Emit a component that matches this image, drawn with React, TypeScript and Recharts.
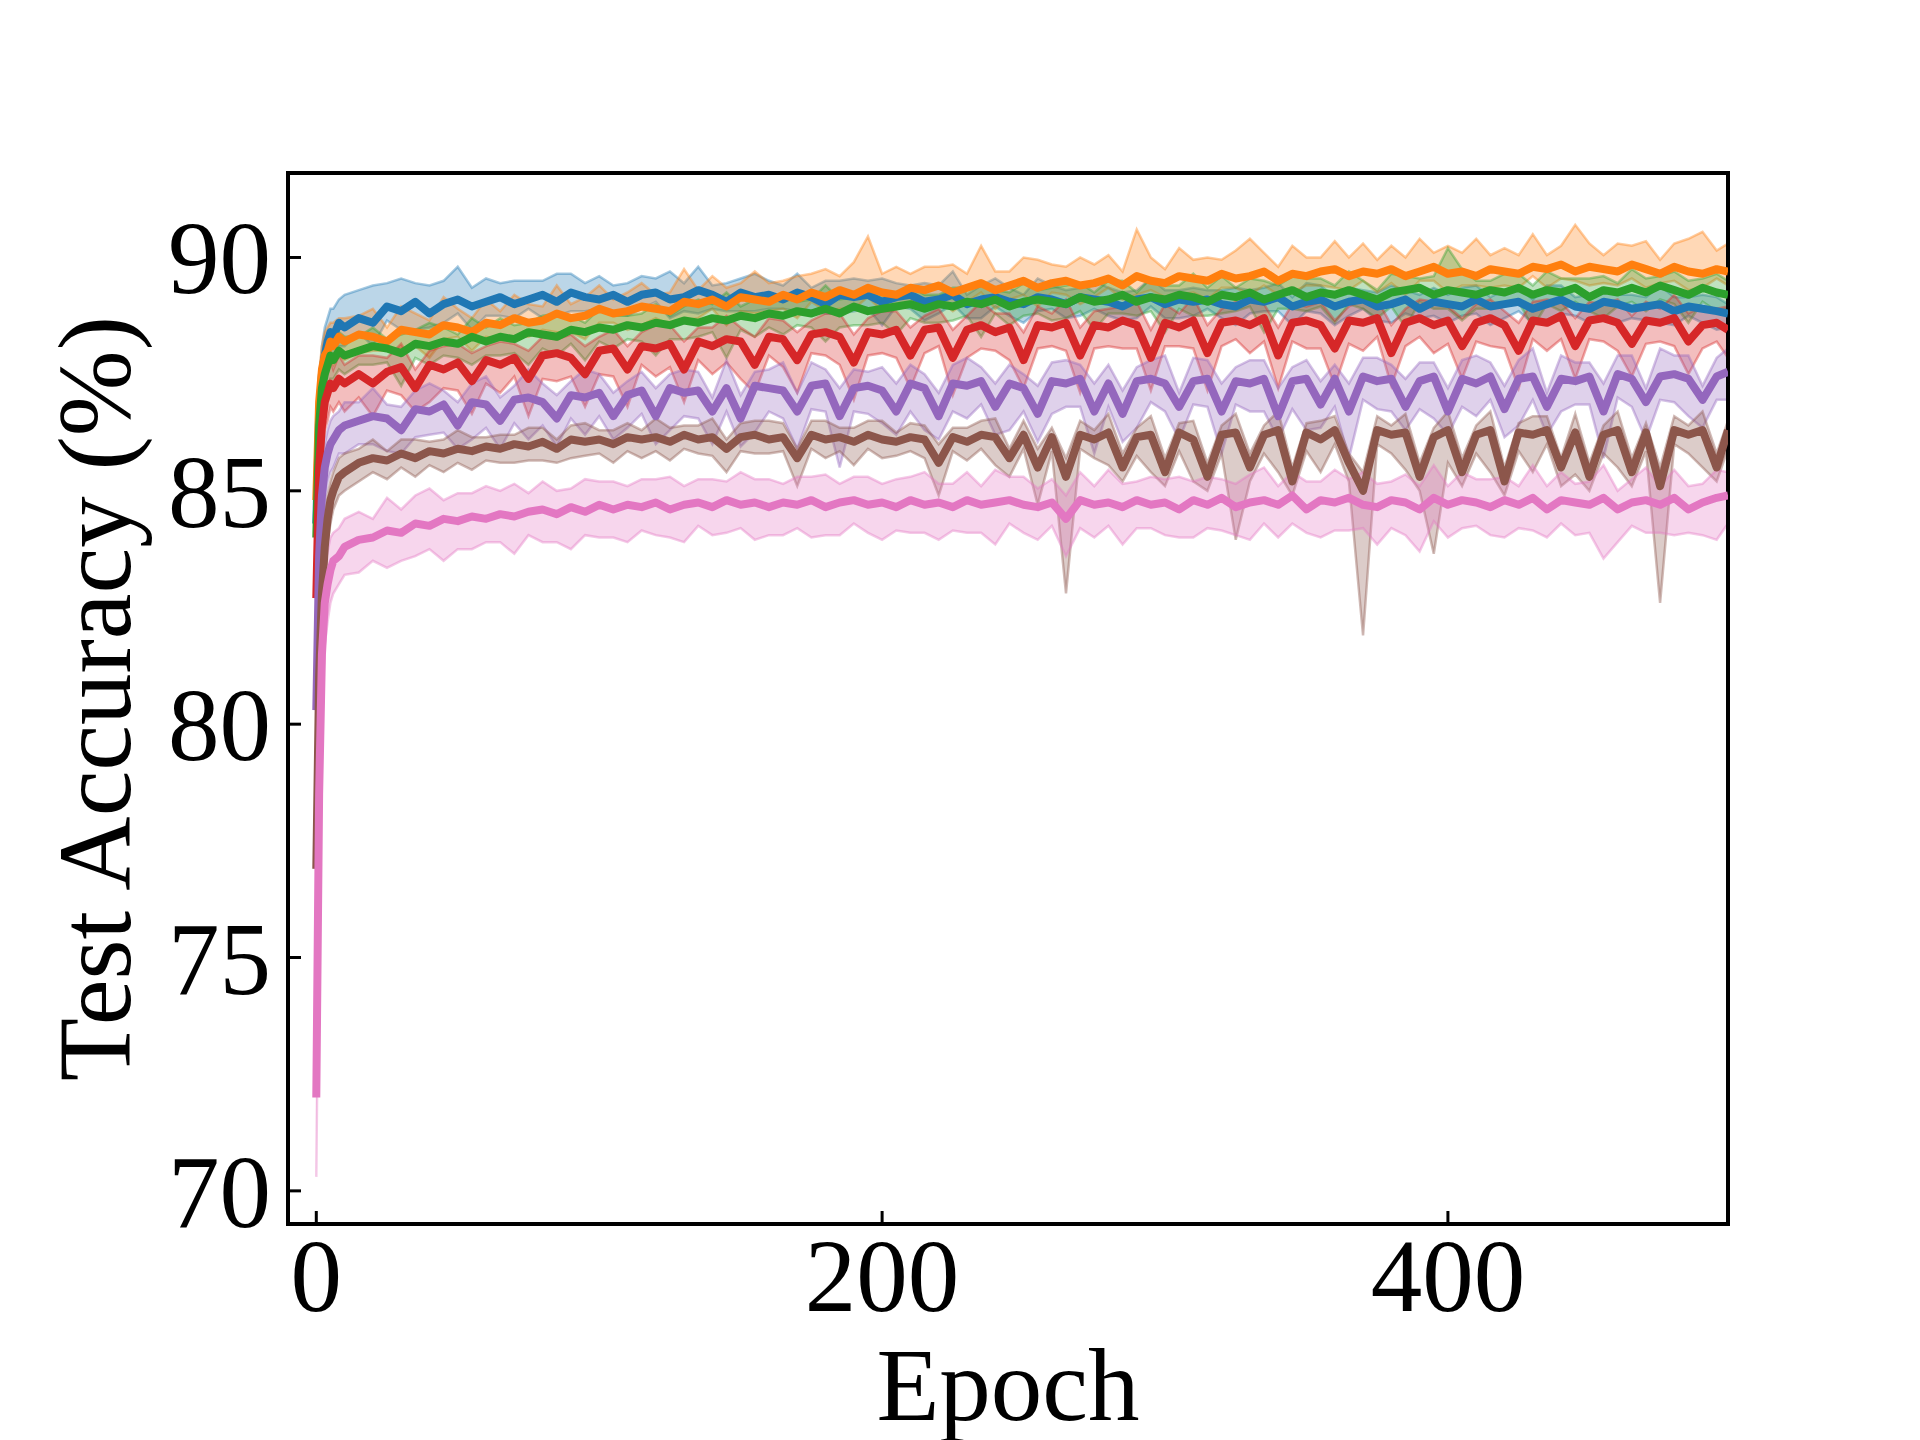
import React from 'react';
import { ComposedChart, Line, Area, XAxis, YAxis, ReferenceArea } from 'recharts';

const parse = (s: string): number[] => s.trim().split(/\s+/).map(Number);

// x categories (epochs)
const EPOCHS = parse(`
0 1 2 3 4 5 6 8 10
15 20 25 30 35 40 45 50 55 60
65 70 75 80 85 90 95 100 105 110
115 120 125 130 135 140 145 150 155 160
165 170 175 180 185 190 195 200 205 210
215 220 225 230 235 240 245 250 255 260
265 270 275 280 285 290 295 300 305 310
315 320 325 330 335 340 345 350 355 360
365 370 375 380 385 390 395 400 405 410
415 420 425 430 435 440 445 450 455 460
465 470 475 480 485 490 495 499`);

const X_TICKS = [0, 200, 400];
const Y_TICKS = [70, 75, 80, 85, 90];

// ---- blue ----
const BLUE_MEAN = parse(`
84.3 86.6 87.5 87.9 88.2 88.4 88.3 88.6 88.5
88.7 88.6 88.95 88.85 89.05 88.8 89.0 89.1 88.95 89.05
89.15 89.0 89.1 89.2 89.05 89.25 89.15 89.1 89.2 89.05
89.2 89.25 89.1 89.15 89.3 89.2 89.05 89.25 89.15 89.2
89.1 89.25 89.15 89.0 89.2 89.15 89.2 89.05 89.15 89.2
89.05 89.1 89.2 89.0 89.1 89.15 89.05 89.0 89.15 89.1
89.0 89.15 89.1 89.05 88.95 89.1 89.15 89.0 89.1 89.05
89.1 89.0 88.95 89.1 89.05 89.15 88.95 89.05 89.1 88.95
89.05 89.1 88.95 89.0 89.1 88.9 89.05 89.0 88.95 89.1
88.95 89.0 89.05 88.9 89.0 89.1 88.95 88.9 89.05 89.0
88.9 88.95 89.0 88.85 88.95 88.9 88.85 88.8`);
const BLUE_UP = parse(`
1.0 .7 .6 .6 .5 .5 .6 .5 .7
.6 .8 .5 .7 .4 .6 .5 .7 .4 .5
.3 .5 .4 .3 .6 .4 .3 .5 .2 .4
.4 .3 .6 .3 .5 .2 .4 .3 .5 .3
.3 .4 .2 .5 .3 .4 .3 .5 .3 .2
.4 .3 .5 .2 .3 .4 .3 .2 .4 .3
.3 .2 .4 .3 .3 .2 .4 .3 .2 .3
.2 .3 .4 .2 .3 .3 .2 .4 .3 .2
.3 .2 .3 .4 .2 .3 .3 .2 .4 .3
.2 .3 .3 .2 .4 .3 .2 .3 .3 .2
.3 .2 .4 .3 .2 .3 .3 .2`);
const BLUE_DOWN = parse(`
1.3 .9 .7 .6 .5 .5 .4 .5 .4
.3 .5 .3 .4 .6 .3 .4 .3 .5 .3
.4 .3 .2 .5 .3 .4 .3 .2 .4 .3
.3 .2 .4 .3 .5 .3 .2 .4 .3 .3
.2 .4 .3 .2 .4 .3 .3 .5 .2 .3
.4 .3 .2 .3 .4 .2 .3 .4 .3 .2
.3 .4 .2 .3 .3 .4 .2 .3 .4 .3
.2 .3 .4 .3 .2 .3 .4 .2 .3 .4
.3 .2 .3 .4 .3 .2 .3 .4 .2 .3
.4 .3 .2 .3 .4 .3 .2 .3 .3 .4
.2 .3 .4 .3 .2 .3 .4 .3`);

// ---- orange ----
const ORANGE_MEAN = parse(`
84.8 86.9 87.6 87.9 88.0 88.2 88.1 88.3 88.2
88.35 88.3 88.2 88.45 88.4 88.35 88.55 88.5 88.4 88.6
88.55 88.7 88.6 88.65 88.8 88.7 88.75 88.9 88.8 88.85
88.95 88.9 88.85 89.05 89.0 89.1 88.95 89.15 89.1 89.05
89.2 89.1 89.25 89.15 89.3 89.2 89.35 89.25 89.2 89.35
89.3 89.4 89.25 89.35 89.45 89.3 89.4 89.5 89.35 89.45
89.5 89.4 89.45 89.55 89.4 89.6 89.5 89.45 89.6 89.55
89.5 89.65 89.55 89.6 89.7 89.5 89.65 89.6 89.7 89.75
89.6 89.7 89.65 89.75 89.6 89.7 89.8 89.65 89.7 89.6
89.75 89.7 89.65 89.8 89.75 89.85 89.7 89.8 89.75 89.7
89.85 89.75 89.65 89.8 89.7 89.65 89.75 89.7`);
const ORANGE_UP = parse(`
.9 .6 .5 .5 .5 .4 .5 .4 .5
.4 .6 .3 .5 .4 .3 .6 .4 .3 .5
.3 .5 .4 .3 .6 .3 .4 .5 .3 .4
.5 .3 .4 .7 .3 .5 .4 .3 .6 .4
.3 .5 .4 .6 .3 .7 1.1 .4 .6 .3
.5 .4 .6 .3 .8 .4 .3 .5 .6 .4
.3 .6 .4 .5 .3 1.0 .5 .3 .6 .4
.5 .3 .6 .8 .4 .3 .6 .4 .3 .6
.4 .6 .3 .5 .4 .7 .3 .6 .4 .8
.3 .5 .4 .7 .3 .4 1.0 .5 .3 .6
.4 .6 .3 .5 .7 .9 .4 .6`);
const ORANGE_DOWN = parse(`
1.2 .8 .6 .5 .5 .4 .4 .4 .4
.4 .3 .2 .4 .3 .5 .3 .2 .4 .3
.3 .4 .3 .2 .4 .3 .5 .3 .2 .4
.4 .2 .3 .4 .3 .2 .4 .3 .3 .2
.3 .4 .2 .3 .4 .3 .2 .4 .3 .3
.2 .3 .4 .3 .2 .4 .3 .3 .4 .2
.3 .4 .3 .2 .3 .4 .2 .3 .4 .3
.4 .3 .2 .4 .3 .3 .4 .2 .3 .4
.3 .2 .4 .3 .4 .2 .3 .4 .3 .2
.4 .3 .3 .2 .4 .3 .2 .4 .3 .3
.3 .4 .2 .3 .4 .3 .2 .3`);

// ---- green ----
const GREEN_MEAN = parse(`
84.0 86.4 87.2 87.5 87.7 87.9 87.8 88.0 87.9
88.0 88.1 88.05 87.95 88.15 88.1 88.2 88.15 88.3 88.2
88.3 88.25 88.4 88.35 88.3 88.45 88.4 88.5 88.45 88.55
88.5 88.6 88.55 88.65 88.6 88.7 88.65 88.75 88.7 88.8
88.75 88.85 88.8 88.9 88.8 88.95 88.85 88.9 88.95 89.0
88.9 89.0 88.95 89.05 89.0 89.1 88.95 89.05 89.1 89.05
89.0 89.15 89.05 89.1 89.2 89.05 89.15 89.1 89.2 89.15
89.05 89.2 89.15 89.25 89.1 89.2 89.3 89.15 89.25 89.2
89.3 89.2 89.1 89.25 89.3 89.35 89.2 89.3 89.25 89.2
89.3 89.25 89.35 89.2 89.3 89.25 89.35 89.15 89.3 89.25
89.35 89.25 89.4 89.3 89.2 89.35 89.25 89.2`);
const GREEN_UP = parse(`
.9 .6 .5 .5 .4 .4 .5 .4 .4
.3 .4 .2 .4 .3 .5 .3 .2 .4 .3
.4 .3 .2 .4 .5 .3 .2 .4 .3 .2
.3 .4 .2 .3 .5 .3 .6 .2 .4 .3
.4 .2 .3 .5 .3 .2 .4 .3 .2 .4
.3 .2 .4 .3 .5 .2 .3 .4 .2 .3
.4 .3 .2 .4 .3 .2 .4 .3 .2 .5
.3 .4 .2 .3 .4 .2 .3 .4 .3 .2
.4 .3 .2 .4 .3 .2 .4 .9 .5 .3
.2 .4 .3 .2 .4 .3 .2 .4 .3 .2
.4 .3 .2 .4 .3 .2 .4 .3`);
const GREEN_DOWN = parse(`
1.4 .9 .7 .6 .5 .5 .4 .4 .4
.3 .4 .3 .7 .3 .4 .3 .3 .6 .3
.4 .3 .7 .3 .4 .3 .6 .3 .4 .3
.3 .7 .3 .4 .3 .3 .8 .3 .4 .3
.4 .3 .3 .7 .3 .4 .3 .3 .6 .3
.3 .4 .3 .3 .7 .3 .4 .3 .3 .4
.3 .3 .6 .3 .4 .3 .3 .7 .3 .4
.3 .4 .3 .3 .7 .3 .4 .3 .3 .6
.3 .3 .4 .3 .8 .3 .3 .4 .6 .3
.4 .3 .3 .7 .3 .4 .3 .3 .6 .3
.3 .4 .3 .3 .6 .3 .4 .3`);

// ---- red ----
const RED_MEAN = parse(`
82.7 85.5 86.4 86.9 87.1 87.3 87.2 87.4 87.3
87.5 87.3 87.55 87.65 87.2 87.7 87.6 87.75 87.35 87.8
87.7 87.85 87.4 87.9 87.95 87.85 87.5 88.0 88.05 87.6
88.1 88.05 88.15 87.6 88.2 88.1 88.25 88.2 87.7 88.3
88.25 87.8 88.35 88.4 88.3 87.75 88.4 88.35 88.45 87.9
88.45 88.5 87.85 88.45 88.55 88.4 88.5 87.8 88.55 88.5
88.6 87.9 88.55 88.5 88.65 88.55 87.85 88.6 88.5 88.65
87.95 88.6 88.65 88.55 88.7 87.9 88.6 88.65 88.55 88.05
88.65 88.6 88.7 87.95 88.6 88.7 88.55 88.65 88.1 88.6
88.7 88.55 88.0 88.65 88.6 88.75 88.1 88.65 88.7 88.6
88.15 88.65 88.6 88.7 88.2 88.55 88.6 88.45`);
const RED_UP = parse(`
.9 .7 .6 .5 .5 .5 .4 .5 .4
.4 .6 .3 .5 .4 .3 .5 .4 .6 .3
.5 .3 .6 .4 .3 .5 .6 .3 .4 .5
.3 .5 .4 .6 .3 .4 .5 .3 .6 .4
.4 .6 .3 .4 .5 .6 .3 .5 .4 .6
.3 .4 .6 .3 .5 .4 .3 .6 .4 .3
.5 .6 .3 .4 .3 .5 .6 .4 .3 .5
.6 .3 .4 .5 .3 .6 .4 .3 .5 .6
.3 .5 .4 .6 .3 .4 .5 .3 .6 .4
.4 .3 .6 .4 .5 .3 .6 .4 .3 .5
.6 .4 .3 .5 .6 .4 .3 .5`);
const RED_DOWN = parse(`
1.2 .9 .7 .6 .6 .5 .5 .5 .6
.5 .7 .4 .6 .5 .8 .4 .6 .7 .5
.6 .4 .8 .5 .6 .4 .7 .5 .6 .8
.4 .6 .5 .7 .4 .6 .5 .8 .6 .4
.6 .7 .4 .5 .6 .8 .5 .4 .6 .7
.5 .4 .8 .6 .5 .4 .7 .6 .5 .4
.6 .8 .5 .4 .6 .5 .7 .5 .4 .6
.8 .5 .4 .6 .5 .7 .4 .6 .5 .8
.5 .6 .4 .7 .5 .4 .6 .5 .7 .4
.6 .5 .8 .4 .6 .5 .7 .4 .5 .6
.7 .5 .4 .6 .7 .5 .4 .6`);

// ---- purple ----
const PURPLE_MEAN = parse(`
80.3 83.6 84.9 85.5 85.8 86.0 86.1 86.3 86.4
86.5 86.6 86.55 86.3 86.75 86.7 86.85 86.4 86.9 86.85
86.5 86.95 87.0 86.9 86.55 87.05 87.0 87.1 86.6 87.05
87.15 86.6 87.2 87.1 87.15 86.7 87.2 86.55 87.25 87.2
87.15 86.7 87.25 87.3 86.6 87.2 87.25 87.15 86.7 87.3
87.2 86.6 87.3 87.25 87.35 86.8 87.3 87.2 86.65 87.35
87.3 87.4 86.7 87.3 86.65 87.35 87.4 87.3 86.8 87.35
87.4 86.7 87.35 87.3 87.4 86.6 87.35 87.4 86.85 87.4
86.7 87.45 87.35 87.4 86.8 87.35 87.45 86.7 87.4 87.3
87.45 86.75 87.4 87.45 86.8 87.4 87.35 87.45 86.7 87.5
87.4 86.9 87.45 87.5 87.4 86.95 87.45 87.55`);
const PURPLE_UP = parse(`
.6 .7 .6 .5 .5 .5 .5 .4 .5
.4 .6 .3 .5 .4 .6 .3 .5 .4 .6
.5 .3 .6 .4 .5 .3 .6 .4 .5 .3
.4 .6 .3 .5 .4 .3 .6 .5 .3 .4
.6 .4 .5 .3 .6 .4 .3 .5 .6 .4
.3 .5 .4 .6 .3 .5 .4 .3 .6 .4
.5 .3 .6 .4 .5 .3 .4 .6 .3 .5
.4 .6 .3 .5 .4 .6 .3 .4 .5 .3
.6 .4 .5 .3 .6 .4 .3 .5 .4 .6
.3 .5 .4 .6 .3 .5 .4 .3 .6 .4
.5 .3 .6 .4 .5 .3 .4 .5`);
const PURPLE_DOWN = parse(`
.9 1.0 .8 .7 .6 .6 .6 .5 .6
.5 .6 .7 .5 .6 .5 .6 .5 .8 .5
.6 .5 .9 .5 .6 .5 .8 .5 .5 .7
.5 .6 .9 .5 .6 .7 .5 .6 1.0 .5
.6 .8 .5 .6 1.1 .5 .6 .7 .5 .6
.9 .5 .6 .7 .5 .6 1.0 .5 .6 .7
.5 .6 .9 .5 .6 1.0 .5 .6 .7 .5
.6 .9 .5 .6 .7 .5 .6 1.1 .5 .6
1.0 .5 .6 .7 .5 .6 .9 .5 .6 .7
.5 .6 1.0 .5 .6 .7 .5 .6 1.0 .5
.6 .8 .5 .6 .8 .6 .5 .6`);

// ---- brown ----
const BROWN_MEAN = parse(`
76.9 81.0 82.8 83.8 84.4 84.8 85.0 85.3 85.4
85.6 85.7 85.65 85.8 85.7 85.85 85.8 85.9 85.85 85.95
85.9 86.0 85.95 86.05 85.9 86.1 86.05 86.1 86.0 86.15
86.1 86.15 86.05 86.2 86.1 86.15 85.9 86.15 86.2 86.1
86.15 85.7 86.2 86.1 86.15 86.05 86.2 86.1 86.05 86.15
86.1 85.6 86.15 86.05 86.2 86.15 85.7 86.2 85.5 86.15
85.3 86.2 86.1 86.25 85.5 86.15 86.2 85.4 86.25 86.1
85.3 86.2 86.25 85.5 86.2 86.3 85.2 86.25 86.1 86.3
85.6 85.0 86.3 86.2 86.25 85.3 86.15 86.3 85.4 86.2
86.3 85.2 86.25 86.2 86.3 85.5 86.25 85.3 86.2 86.3
85.4 86.25 85.1 86.3 86.2 86.3 85.5 86.3`);
const BROWN_UP = parse(`
.8 .9 .7 .6 .5 .4 .4 .4 .4
.3 .4 .2 .3 .4 .2 .3 .4 .3 .2
.3 .2 .4 .3 .2 .3 .4 .2 .3 .3
.2 .4 .3 .2 .3 .4 .2 .3 .3 .4
.3 .2 .3 .4 .2 .3 .3 .4 .2 .3
.3 .4 .2 .3 .3 .4 .2 .3 .4 .2
.4 .3 .2 .4 .3 .2 .4 .3 .2 .4
.3 .2 .4 .3 .2 .4 .3 .2 .4 .3
.2 .4 .3 .2 .4 .3 .2 .4 .3 .2
.4 .3 .2 .4 .3 .2 .4 .3 .2 .4
.3 .2 .4 .3 .2 .4 .3 .2`);
const BROWN_DOWN = parse(`
1.0 1.1 .8 .6 .5 .5 .4 .4 .4
.4 .3 .4 .3 .4 .3 .4 .3 .4 .3
.3 .4 .3 .4 .3 .4 .3 .3 .4 .3
.4 .3 .4 .3 .3 .4 .5 .3 .4 .3
.3 .6 .3 .4 .3 .5 .3 .4 .3 .3
.4 .7 .3 .4 .3 .6 .4 .3 .8 .3
2.5 .3 .4 .7 .3 .4 .8 .3 .4 .9
.3 .4 2.3 .3 .4 .9 .3 .4 .7 .3
.4 3.1 .3 .4 .8 .3 2.5 .7 .3 .4
.9 .3 .4 .8 .3 .4 .9 .3 .4 .8
.3 .4 2.5 .3 .4 .8 .3 .4`);

// ---- pink ----
const PINK_MEAN = parse(`
72.0 78.5 81.5 82.6 83.0 83.3 83.5 83.6 83.8
83.95 84.0 84.15 84.1 84.3 84.25 84.4 84.35 84.45 84.4
84.5 84.45 84.55 84.6 84.5 84.65 84.55 84.7 84.6 84.7
84.65 84.75 84.6 84.7 84.75 84.65 84.8 84.7 84.75 84.65
84.75 84.7 84.8 84.65 84.75 84.8 84.7 84.75 84.65 84.8
84.7 84.75 84.65 84.8 84.7 84.75 84.8 84.7 84.65 84.75
84.4 84.8 84.7 84.75 84.65 84.8 84.7 84.75 84.6 84.8
84.7 84.85 84.65 84.75 84.8 84.7 84.9 84.6 84.8 84.75
84.85 84.7 84.65 84.8 84.75 84.6 84.85 84.7 84.8 84.75
84.65 84.8 84.7 84.85 84.6 84.8 84.75 84.7 84.85 84.6
84.75 84.8 84.7 84.85 84.6 84.75 84.85 84.9`);
const PINK_UP = parse(`
1.0 1.2 1.0 .8 .7 .7 .6 .6 .6
.6 .4 .7 .5 .6 .8 .4 .6 .5 .7
.5 .7 .4 .6 .5 .4 .7 .5 .6 .4
.6 .5 .7 .4 .5 .6 .4 .7 .5 .6
.4 .6 .5 .7 .4 .5 .6 .4 .6 .5
.7 .4 .5 .6 .4 .7 .5 .6 .4 .5
.5 .6 .4 .7 .5 .4 .6 .5 .7 .4
.6 .4 .5 .6 .7 .4 .5 .6 .4 .7
.4 .7 .5 .4 .6 .5 .7 .4 .6 .5
.6 .5 .4 .7 .5 .6 .4 .5 .7 .4
.5 .7 .4 .6 .5 .4 .6 .5`);
const PINK_DOWN = parse(`
1.7 1.8 1.2 .9 .8 .7 .7 .6 .6
.7 .5 .8 .6 .7 .5 .9 .6 .7 .5
.6 .8 .5 .7 .6 .9 .5 .7 .6 .8
.5 .7 .6 .8 .5 .6 .7 .5 .8 .6
.7 .5 .8 .6 .7 .5 .6 .8 .5 .7
.6 .8 .5 .7 .6 .9 .5 .6 .7 .5
.8 .6 .7 .5 .8 .6 .5 .7 .6 .8
.5 .7 .6 .8 .5 .7 .6 .5 .8 .6
.7 .5 .8 .6 .7 .9 .5 .7 .6 .5
.6 .8 .5 .7 .6 .5 .7 .6 1.3 .7
.5 .7 .6 .8 .5 .7 .9 .6`);

const SERIES = [
  { key: 'blue', color: '#1f77b4', mean: BLUE_MEAN, up: BLUE_UP, down: BLUE_DOWN },
  { key: 'orange', color: '#ff7f0e', mean: ORANGE_MEAN, up: ORANGE_UP, down: ORANGE_DOWN },
  { key: 'green', color: '#2ca02c', mean: GREEN_MEAN, up: GREEN_UP, down: GREEN_DOWN },
  { key: 'red', color: '#d62728', mean: RED_MEAN, up: RED_UP, down: RED_DOWN },
  { key: 'purple', color: '#9467bd', mean: PURPLE_MEAN, up: PURPLE_UP, down: PURPLE_DOWN },
  { key: 'brown', color: '#8c564b', mean: BROWN_MEAN, up: BROWN_UP, down: BROWN_DOWN },
  { key: 'pink', color: '#e377c2', mean: PINK_MEAN, up: PINK_UP, down: PINK_DOWN },
];

const rows = EPOCHS.map((epoch, i) => {
  const r: Record<string, any> = { epoch };
  SERIES.forEach((s) => {
    const m = s.mean[i];
    r[s.key] = m;
    r[s.key + 'Band'] = [m - (s.down[i] ?? 0), m + (s.up[i] ?? 0)];
  });
  return r;
});

const FONT = "'Liberation Serif', 'Times New Roman', Times, serif";
const FS = 103;
const PLOT_L = 288;
const PLOT_R = 1728;
const PLOT_T = 173;
const PLOT_B = 1224;
const TICK_LEN = 13;

const YTick = (props: any) => {
  const y = props.payload?.coordinate ?? props.y;
  return (
    <g>
      <line x1={PLOT_L} x2={PLOT_L + TICK_LEN} y1={y} y2={y} stroke="#000" strokeWidth={3} />
      <text x={PLOT_L - 17} y={y + 36} textAnchor="end" fontFamily={FONT} fontSize={FS} fill="#000">
        {props.payload.value}
      </text>
    </g>
  );
};

const XTick = (props: any) => {
  const x = props.payload?.coordinate ?? props.x;
  return (
    <g>
      <line x1={x} x2={x} y1={PLOT_B} y2={PLOT_B - TICK_LEN} stroke="#000" strokeWidth={3} />
      <text x={x} y={1311} textAnchor="middle" fontFamily={FONT} fontSize={FS} fill="#000">
        {props.payload.value}
      </text>
    </g>
  );
};

const XTitle = () => (
  <text x={(PLOT_L + PLOT_R) / 2} y={1420} textAnchor="middle" fontFamily={FONT} fontSize={FS} fill="#000">
    Epoch
  </text>
);

const YTitle = () => (
  <text
    x={130}
    y={(PLOT_T + PLOT_B) / 2}
    transform={`rotate(-90, 130, ${(PLOT_T + PLOT_B) / 2})`}
    textAnchor="middle"
    fontFamily={FONT}
    fontSize={FS}
    fill="#000"
  >
    Test Accuracy (%)
  </text>
);

const MEAN_STYLE = { strokeWidth: 8 };

export default function App() {
  return (
    <div style={{ position: 'absolute', left: 0, top: 0, width: 1920, height: 1440, background: '#fff' }}>
      <ComposedChart
        width={1920}
        height={1440}
        data={rows}
        margin={{ top: PLOT_T, right: 1920 - PLOT_R, bottom: 1440 - PLOT_B - 30, left: PLOT_L - 60 }}
      >
        <XAxis
          dataKey="epoch"
          type="number"
          domain={[-10, 499]}
          allowDataOverflow
          ticks={X_TICKS}
          interval={0}
          height={30}
          axisLine={false}
          tickLine={false}
          tick={(p: any) => <XTick {...p} />}
          label={<XTitle />}
        />
        <YAxis
          type="number"
          domain={[69.29, 91.81]}
          allowDataOverflow
          ticks={Y_TICKS}
          interval={0}
          width={60}
          axisLine={false}
          tickLine={false}
          tick={(p: any) => <YTick {...p} />}
          label={<YTitle />}
        />
        {SERIES.flatMap((s) => [
          <Area
            key={s.key + 'Band'}
            dataKey={s.key + 'Band'}
            type="linear"
            stroke={s.color}
            strokeOpacity={0.4}
            strokeWidth={2.5}
            fill={s.color}
            fillOpacity={0.3}
            dot={false}
            activeDot={false}
            isAnimationActive={false}
          />,
          <Line
            key={s.key}
            dataKey={s.key}
            type="linear"
            stroke={s.color}
            strokeWidth={8}
            style={MEAN_STYLE}
            strokeLinejoin="round"
            dot={false}
            activeDot={false}
            isAnimationActive={false}
          />,
        ])}
        <ReferenceArea
          x1={-10}
          x2={499}
          y1={69.29}
          y2={91.81}
          fill="none"
          fillOpacity={0}
          stroke="#000"
          strokeWidth={4}
          strokeOpacity={1}
        />
      </ComposedChart>
    </div>
  );
}
